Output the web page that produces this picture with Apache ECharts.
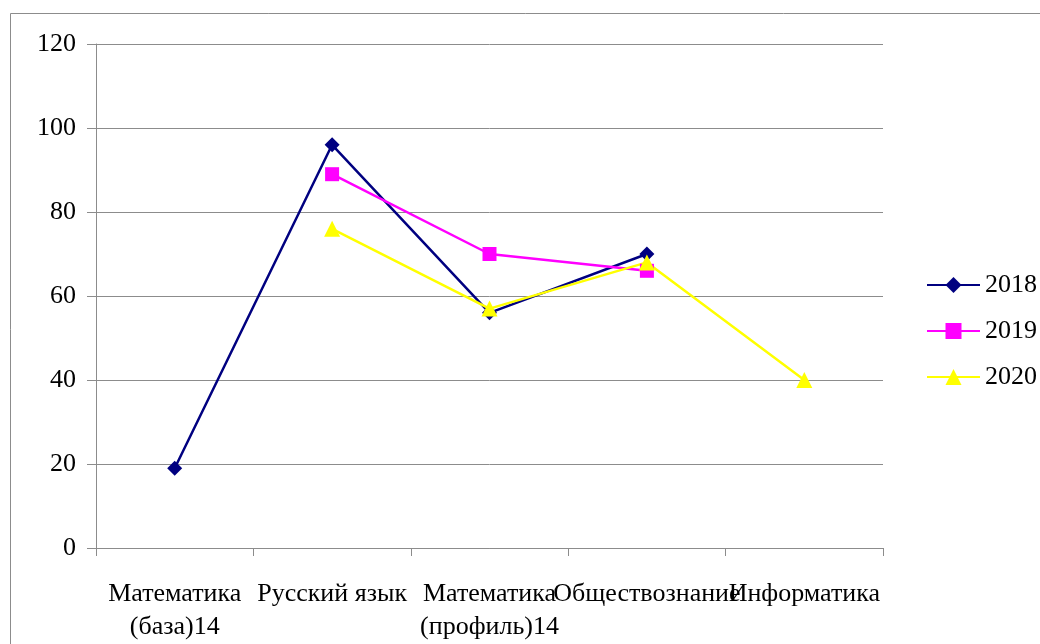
<!DOCTYPE html>
<html><head><meta charset="utf-8">
<script src="https://cdn.jsdelivr.net/npm/echarts@6/dist/echarts.min.js"></script>
<style>html,body{margin:0;padding:0;background:#fff}#c{width:1040px;height:644px}</style>
</head><body><div id="c"></div>
<script>
const categories = ['Математика\n(база)14', 'Русский язык', 'Математика\n(профиль)14', 'Обществознание', 'Информатика'];
const years = ['2018', '2019', '2020'];
const v2018 = [19, 96, 56, 70, null];
const v2019 = [null, 89, 70, 66, null];
const v2020 = [null, 76, 57, 68, 40];
const yTicks = [0, 20, 40, 60, 80, 100, 120];

const font = '"Liberation Serif", "Times New Roman", serif';
const chart = echarts.init(document.getElementById('c'));
function mk(name, data, color, symbol, size) {
  return {
    name, type: 'line', data, color, symbol, symbolSize: size,
    showAllSymbol: true, connectNulls: false,
    lineStyle: { width: 2.5, color }, itemStyle: { color },
    emphasis: { disabled: true }, z: 3
  };
}
chart.setOption({
  animation: false,
  backgroundColor: '#fff',
  graphic: [{ type: 'rect', shape: { x: 10.5, y: 13.5, width: 1200, height: 800 },
    style: { fill: 'none', stroke: '#8c8c8c', lineWidth: 1 }, silent: true }],
  grid: { left: 96, top: 44, width: 787, height: 507, containLabel: false },
  legend: {
    orient: 'vertical', left: 921, top: 267, itemWidth: 53, itemHeight: 20, itemGap: 20,
    textStyle: { fontFamily: font, fontSize: 26, color: '#000', padding: [0, 0, 0, 0] },
    data: years
  },
  xAxis: {
    type: 'category', data: categories, boundaryGap: true,
    axisLine: { lineStyle: { color: '#8c8c8c', width: 1 } },
    axisTick: { show: true, length: 8, lineStyle: { color: '#8c8c8c' }, alignWithLabel: false },
    axisLabel: { interval: 0, fontFamily: font, fontSize: 26, color: '#000', margin: 30, lineHeight: 33 },
    splitLine: { show: false }
  },
  yAxis: {
    type: 'value', min: 0, max: 120, interval: 20,
    axisLine: { show: true, lineStyle: { color: '#8c8c8c', width: 1 } },
    axisTick: { show: true, length: 9, lineStyle: { color: '#8c8c8c' } },
    axisLabel: { fontFamily: font, fontSize: 26, color: '#000', margin: 20,
      formatter: v => yTicks.includes(v) ? String(v) : '' },
    splitLine: { show: true, lineStyle: { color: '#8c8c8c', width: 1 } }
  },
  series: [
    mk('2018', v2018, '#000080', 'diamond', 15),
    mk('2019', v2019, '#FF00FF', 'rect', 14),
    mk('2020', v2020, '#FFFF00', 'triangle', 16)
  ]
});
</script></body></html>
